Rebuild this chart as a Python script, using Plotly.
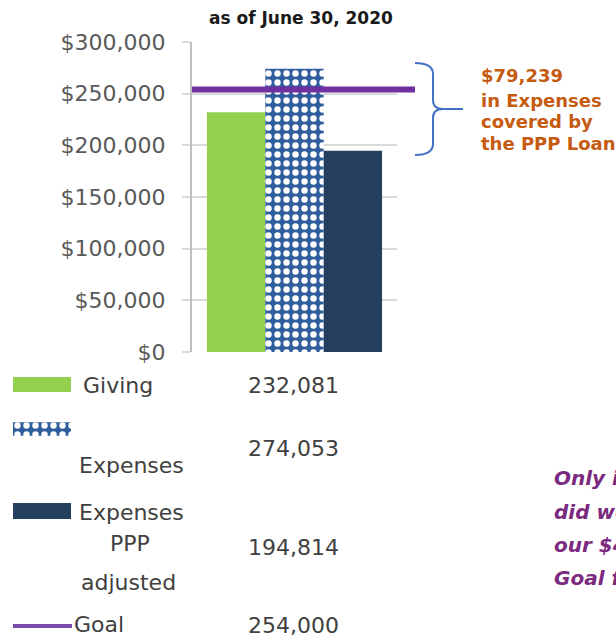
import plotly.graph_objects as go

# ---------------- data ----------------
CATEGORY = ["as of June 30, 2020"]
SERIES_NAMES = ["Giving", "Expenses", "Expenses PPP adjusted"]
GIVING = [232081]
EXPENSES = [274053]
EXPENSES_PPP = [194814]
GOAL = 254000
PPP_COVERED = 79239
Y_TICKS = [0, 50000, 100000, 150000, 200000, 250000, 300000]
Y_TICK_LABELS = ["$0", "$50,000", "$100,000", "$150,000", "$200,000", "$250,000", "$300,000"]
NOTE_LINES = ["Only in", "did we", "our $4", "Goal for"]

W, H = 616, 639
FONT = "DejaVu Sans"


def px(x):
    return x / W


def py(y):
    return 1 - y / H


GREEN = "#92d050"
NAVY = "#243f60"
PAT_BLUE = "#2f5d9e"
PURPLE = "#7030a0"
ORANGE = "#c55a11"
TXT = "#404040"

PATTERN = dict(shape=".", bgcolor=PAT_BLUE, fgcolor="white", size=9, solidity=0.4, fillmode="replace")

fig = go.Figure()

fig.add_trace(go.Bar(x=CATEGORY, y=GIVING, name=SERIES_NAMES[0],
                     marker=dict(color=GREEN, line=dict(width=0))))
fig.add_trace(go.Bar(x=CATEGORY, y=EXPENSES, name=SERIES_NAMES[1],
                     marker=dict(color="white", line=dict(width=0), pattern=PATTERN)))
fig.add_trace(go.Bar(x=CATEGORY, y=EXPENSES_PPP, name=SERIES_NAMES[2],
                     marker=dict(color=NAVY, line=dict(width=0))))

# legend swatch for patterned series (mini axis)
fig.add_trace(go.Bar(x=[1], y=[0], orientation="h", xaxis="x2", yaxis="y2",
                     showlegend=False, hoverinfo="skip",
                     marker=dict(color="white", line=dict(width=0), pattern=PATTERN)))

shapes = []
# goal line
shapes.append(dict(type="line", xref="paper", yref="y", x0=px(192), x1=px(415),
                   y0=GOAL, y1=GOAL, line=dict(color=PURPLE, width=6), layer="above"))


# bracket (curly brace)
def P(x, y):
    return f"{px(x):.5f},{py(y):.5f}"


brace = (f"M{P(415,63)} Q{P(433,63)} {P(433,74)} L{P(433,100)} Q{P(433,109)} {P(443,109)} L{P(463,109)} "
         f"M{P(443,109)} Q{P(433,109)} {P(433,118)} L{P(433,144)} Q{P(433,155)} {P(415,155)}")
shapes.append(dict(type="path", xref="paper", yref="paper", path=brace,
                   line=dict(color="#4472c4", width=2)))

# legend swatches
shapes.append(dict(type="rect", xref="paper", yref="paper", x0=px(13), x1=px(71),
                   y0=py(392), y1=py(377), fillcolor=GREEN, line=dict(width=0)))
shapes.append(dict(type="rect", xref="paper", yref="paper", x0=px(13), x1=px(71),
                   y0=py(519), y1=py(503), fillcolor=NAVY, line=dict(width=0)))
shapes.append(dict(type="line", xref="paper", yref="paper", x0=px(13), x1=px(72),
                   y0=py(626), y1=py(626), line=dict(color="#7a4aa8", width=4)))

ann = []


def text(x, y, s, size=22, color=TXT, anchor="left", bold=False, italic=False):
    if bold:
        s = f"<b>{s}</b>"
    if italic:
        s = f"<i>{s}</i>"
    ann.append(dict(xref="paper", yref="paper", x=px(x), y=py(y), text=s, showarrow=False,
                    xanchor=anchor, yanchor="middle", borderpad=0,
                    font=dict(family=FONT, size=size, color=color)))


# title
text(301, 18, CATEGORY[0], size=17, color="#1a1a1a", anchor="center", bold=True)

# orange annotation
text(480, 75, f"${PPP_COVERED:,}", size=18, color=ORANGE, bold=True)
text(480, 100, "in Expenses", size=18, color=ORANGE, bold=True)
text(480, 122, "covered by", size=18, color=ORANGE, bold=True)
text(480, 143, "the PPP Loan", size=18, color=ORANGE, bold=True)

# legend / data table
text(82, 385, SERIES_NAMES[0])
text(78, 465, SERIES_NAMES[1])
text(78, 512, "Expenses")
text(130, 543, "PPP", anchor="center")
text(80, 582, "adjusted")
text(73, 624, "Goal")

VAL_X = 247
text(VAL_X, 385, f"{GIVING[0]:,}")
text(VAL_X, 448, f"{EXPENSES[0]:,}")
text(VAL_X, 547, f"{EXPENSES_PPP[0]:,}")
text(VAL_X, 625, f"{GOAL:,}")

# purple note (cut at the right edge)
for yy, line in zip([478, 512, 545, 578], NOTE_LINES):
    text(553, yy, line, size=20, color="#7b2a80", bold=True, italic=True)

fig.update_layout(
    width=W, height=H,
    margin=dict(l=0, r=0, t=0, b=0, autoexpand=False),
    paper_bgcolor="white", plot_bgcolor="white",
    barmode="group", bargap=0.146, bargroupgap=0,
    showlegend=False,
    font=dict(family=FONT, color=TXT),
    xaxis=dict(domain=[px(192), px(397)], showticklabels=False, showgrid=False,
               zeroline=False, showline=False, ticks="", automargin=False),
    yaxis=dict(domain=[py(352), py(42)], range=[0, 300000], tickvals=Y_TICKS,
               ticktext=Y_TICK_LABELS, showgrid=True, gridcolor="#d9d9d9", gridwidth=2,
               zeroline=False, showline=True, linecolor="#bfbfbf", linewidth=2,
               ticks="outside", ticklen=8, tickcolor="#d9d9d9", tickwidth=2,
               ticklabelstandoff=12, automargin=False,
               tickfont=dict(family=FONT, size=22, color="#595959")),
    xaxis2=dict(domain=[px(13), px(71)], range=[0, 1], visible=False, anchor="y2", fixedrange=True),
    yaxis2=dict(domain=[py(437), py(421)], range=[-0.5, 0.5], visible=False, anchor="x2", fixedrange=True),
    shapes=shapes,
    annotations=ann,
)

fig.write_html("out.html", config={"displayModeBar": False},
               post_script="document.body.style.margin='0px';")
